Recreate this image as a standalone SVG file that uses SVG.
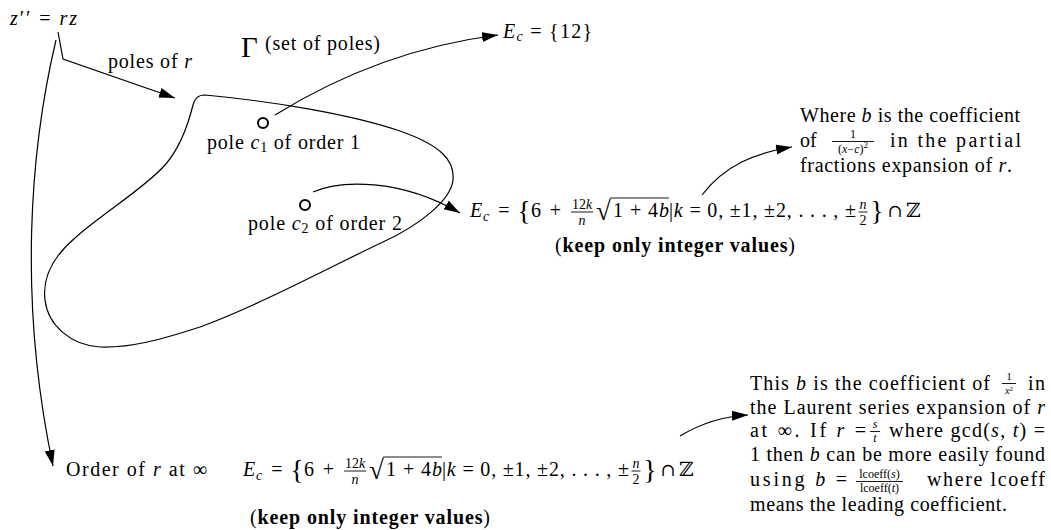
<svg xmlns="http://www.w3.org/2000/svg" width="1051" height="530" viewBox="0 0 1051 530">
<defs>
<style>
text{font-family:"Liberation Serif","Times New Roman",serif;font-size:20px;fill:#000}
.i{font-style:italic}
.s{font-size:14px}
.xs{font-size:12px}
.xxs{font-size:10.5px}
.ss{font-size:9px}
.sss{font-size:7px}
.b{font-weight:bold}
.m{text-anchor:middle}
.sym{font-family:"DejaVu Serif",serif}
.big{font-size:29px}
.brace{font-size:27px}
.rad{font-size:27px}
.cap{font-size:18px}
.edge{fill:none;stroke:#000;stroke-width:1.2}
.bar{stroke:#000;stroke-width:0.9}
.pole{fill:none;stroke:#000;stroke-width:2}
.region{fill:none;stroke:#000;stroke-width:1.2}
</style>
<marker id="ah" markerUnits="userSpaceOnUse" markerWidth="18" markerHeight="12" refX="16" refY="5" orient="auto"><path d="M0,0 L16,5 L0,10 Z" fill="#000"/></marker>
</defs>
<rect width="1051" height="530" fill="#fff"/>

<g id="node-ode">
<text x="10" y="25" textLength="67"><tspan class="i">z</tspan>′′ = <tspan class="i">rz</tspan></text>
</g>

<g id="node-poles-label">
<text x="108" y="68" textLength="84">poles of <tspan class="i">r</tspan></text>
</g>

<g id="node-gamma">
<text x="241" y="57" class="big">Γ</text>
<text x="265" y="50" textLength="115">(set of poles)</text>
</g>

<g id="node-region">
<path class="region" d="M205,95 C270,101 350,114 400,131 C440,145 455,160 453,180 C451,200 420,225 383,242 C340,262 260,305 200,327 C160,340 130,348 100,347 C70,345 48,325 45,300 C42,275 55,255 75,238 C100,215 145,188 165,165 C180,148 188,125 193,105 C195,98 198,95 205,95 Z"/>
</g>

<g id="node-c1">
<circle class="pole" cx="263" cy="123" r="5"/>
<text x="207" y="149" textLength="153">pole <tspan class="i">c</tspan><tspan class="s" dy="3">1</tspan><tspan dy="-3"> of order 1</tspan></text>
</g>

<g id="node-c2">
<circle class="pole" cx="305" cy="205" r="5"/>
<text x="248" y="230" textLength="154">pole <tspan class="i">c</tspan><tspan class="s" dy="3">2</tspan><tspan dy="-3"> of order 2</tspan></text>
</g>

<g id="node-ec12">
<text x="503" y="38" textLength="89"><tspan class="i">E</tspan><tspan class="s i" dy="3">c</tspan><tspan dy="-3"> = {12}</tspan></text>
</g>

<g id="node-ec-mid">
<text x="470" y="217" class="i">E</text>
<text x="483" y="221" class="i s">c</text>
<text x="504" y="217" class="m">=</text>
<text x="524" y="220" class="m brace">{</text>
<text x="531" y="217">6</text>
<text x="555.5" y="217" class="m">+</text>
<text x="582" y="208.5" class="m s">12<tspan class="i">k</tspan></text>
<line class="bar" x1="571" y1="212" x2="593" y2="212"/>
<text x="582" y="224.5" class="m s i">n</text>
<text x="596" y="220" class="rad">√</text>
<line class="bar" x1="610" y1="198" x2="669" y2="198"/>
<text x="613" y="217" textLength="56">1 + 4<tspan class="i">b</tspan></text>
<text x="669" y="217" textLength="187">|<tspan class="i">k</tspan> = 0, ±1, ±2, . . . , ±</text>
<text x="863" y="208.5" class="m s i">n</text>
<line class="bar" x1="858.5" y1="212" x2="867.5" y2="212"/>
<text x="863" y="224.5" class="m s">2</text>
<text x="877" y="220" class="m brace">}</text>
<text x="895" y="217" class="m sym cap">∩</text>
<text x="906" y="217" class="sym">ℤ</text>
<text x="555" y="252" textLength="240">(<tspan class="b">keep only integer values</tspan>)</text>
</g>

<g id="node-note-top">
<text x="800" y="122" textLength="220">Where <tspan class="i">b</tspan> is the coefficient</text>
<text x="800" y="147">of</text>
<text x="853" y="137.5" class="m xs">1</text>
<line class="bar" x1="832" y1="141.5" x2="874" y2="141.5"/>
<text x="853" y="152.5" class="m xs">(<tspan class="i">x</tspan>−<tspan class="i">c</tspan>)<tspan class="ss" dy="-5">2</tspan></text>
<text x="890" y="147" textLength="131">in the partial</text>
<text x="800" y="172" textLength="212">fractions expansion of <tspan class="i">r</tspan>.</text>
</g>

<g id="node-order-inf">
<text x="66" y="476" textLength="141">Order of <tspan class="i">r</tspan> at ∞</text>
</g>

<g id="node-ec-bot" transform="translate(-227,259)">
<text x="470" y="217" class="i">E</text>
<text x="483" y="221" class="i s">c</text>
<text x="504" y="217" class="m">=</text>
<text x="524" y="220" class="m brace">{</text>
<text x="531" y="217">6</text>
<text x="555.5" y="217" class="m">+</text>
<text x="582" y="208.5" class="m s">12<tspan class="i">k</tspan></text>
<line class="bar" x1="571" y1="212" x2="593" y2="212"/>
<text x="582" y="224.5" class="m s i">n</text>
<text x="596" y="220" class="rad">√</text>
<line class="bar" x1="610" y1="198" x2="669" y2="198"/>
<text x="613" y="217" textLength="56">1 + 4<tspan class="i">b</tspan></text>
<text x="669" y="217" textLength="187">|<tspan class="i">k</tspan> = 0, ±1, ±2, . . . , ±</text>
<text x="863" y="208.5" class="m s i">n</text>
<line class="bar" x1="858.5" y1="212" x2="867.5" y2="212"/>
<text x="863" y="224.5" class="m s">2</text>
<text x="877" y="220" class="m brace">}</text>
<text x="895" y="217" class="m sym cap">∩</text>
<text x="906" y="217" class="sym">ℤ</text>
</g>
<g id="node-keep-bot">
<text x="250" y="524" textLength="240">(<tspan class="b">keep only integer values</tspan>)</text>
</g>

<g id="node-note-bot">
<text x="750" y="390" textLength="240">This <tspan class="i">b</tspan> is the coefficient of</text>
<text x="1009" y="380" class="m xxs">1</text>
<line class="bar" x1="1002" y1="383.5" x2="1016" y2="383.5"/>
<text x="1009" y="393.5" class="m xxs"><tspan class="i">x</tspan><tspan class="sss" dy="-3">2</tspan></text>
<text x="1028" y="390" textLength="17">in</text>
<text x="750" y="414" textLength="295">the Laurent series expansion of <tspan class="i">r</tspan></text>
<text x="750" y="437" textLength="116">at ∞. If <tspan class="i">r</tspan> =</text>
<text x="875" y="428" class="m xs i">s</text>
<line class="bar" x1="870" y1="431.5" x2="880" y2="431.5"/>
<text x="875" y="442" class="m xs i">t</text>
<text x="889" y="437" textLength="156">where gcd(<tspan class="i">s</tspan>, <tspan class="i">t</tspan>) =</text>
<text x="750" y="461" textLength="295">1 then <tspan class="i">b</tspan> can be more easily found</text>
<text x="750" y="486" textLength="97">using <tspan class="i">b</tspan> =</text>
<text x="879.5" y="478" class="m xs">lcoeff(<tspan class="i">s</tspan>)</text>
<line class="bar" x1="856" y1="481.5" x2="903" y2="481.5"/>
<text x="879.5" y="492" class="m xs">lcoeff(<tspan class="i">t</tspan>)</text>
<text x="927" y="486" textLength="118">where lcoeff</text>
<text x="750" y="511" textLength="257">means the leading coefficient.</text>
</g>

<g id="connectors">
<path class="edge" d="M58,32 L63,59 L175,98" marker-end="url(#ah)"/>
<path class="edge" d="M56,40 C30,150 18,300 53,466" marker-end="url(#ah)"/>
<path class="edge" d="M275,115 Q380,50 498,35" marker-end="url(#ah)"/>
<path class="edge" d="M313,192 C340,180 400,178 460,213" marker-end="url(#ah)"/>
<path class="edge" d="M702,195 C725,165 755,153 792,147" marker-end="url(#ah)"/>
<path class="edge" d="M680,436 C700,424 725,416 748,415" marker-end="url(#ah)"/>
</g>
</svg>
